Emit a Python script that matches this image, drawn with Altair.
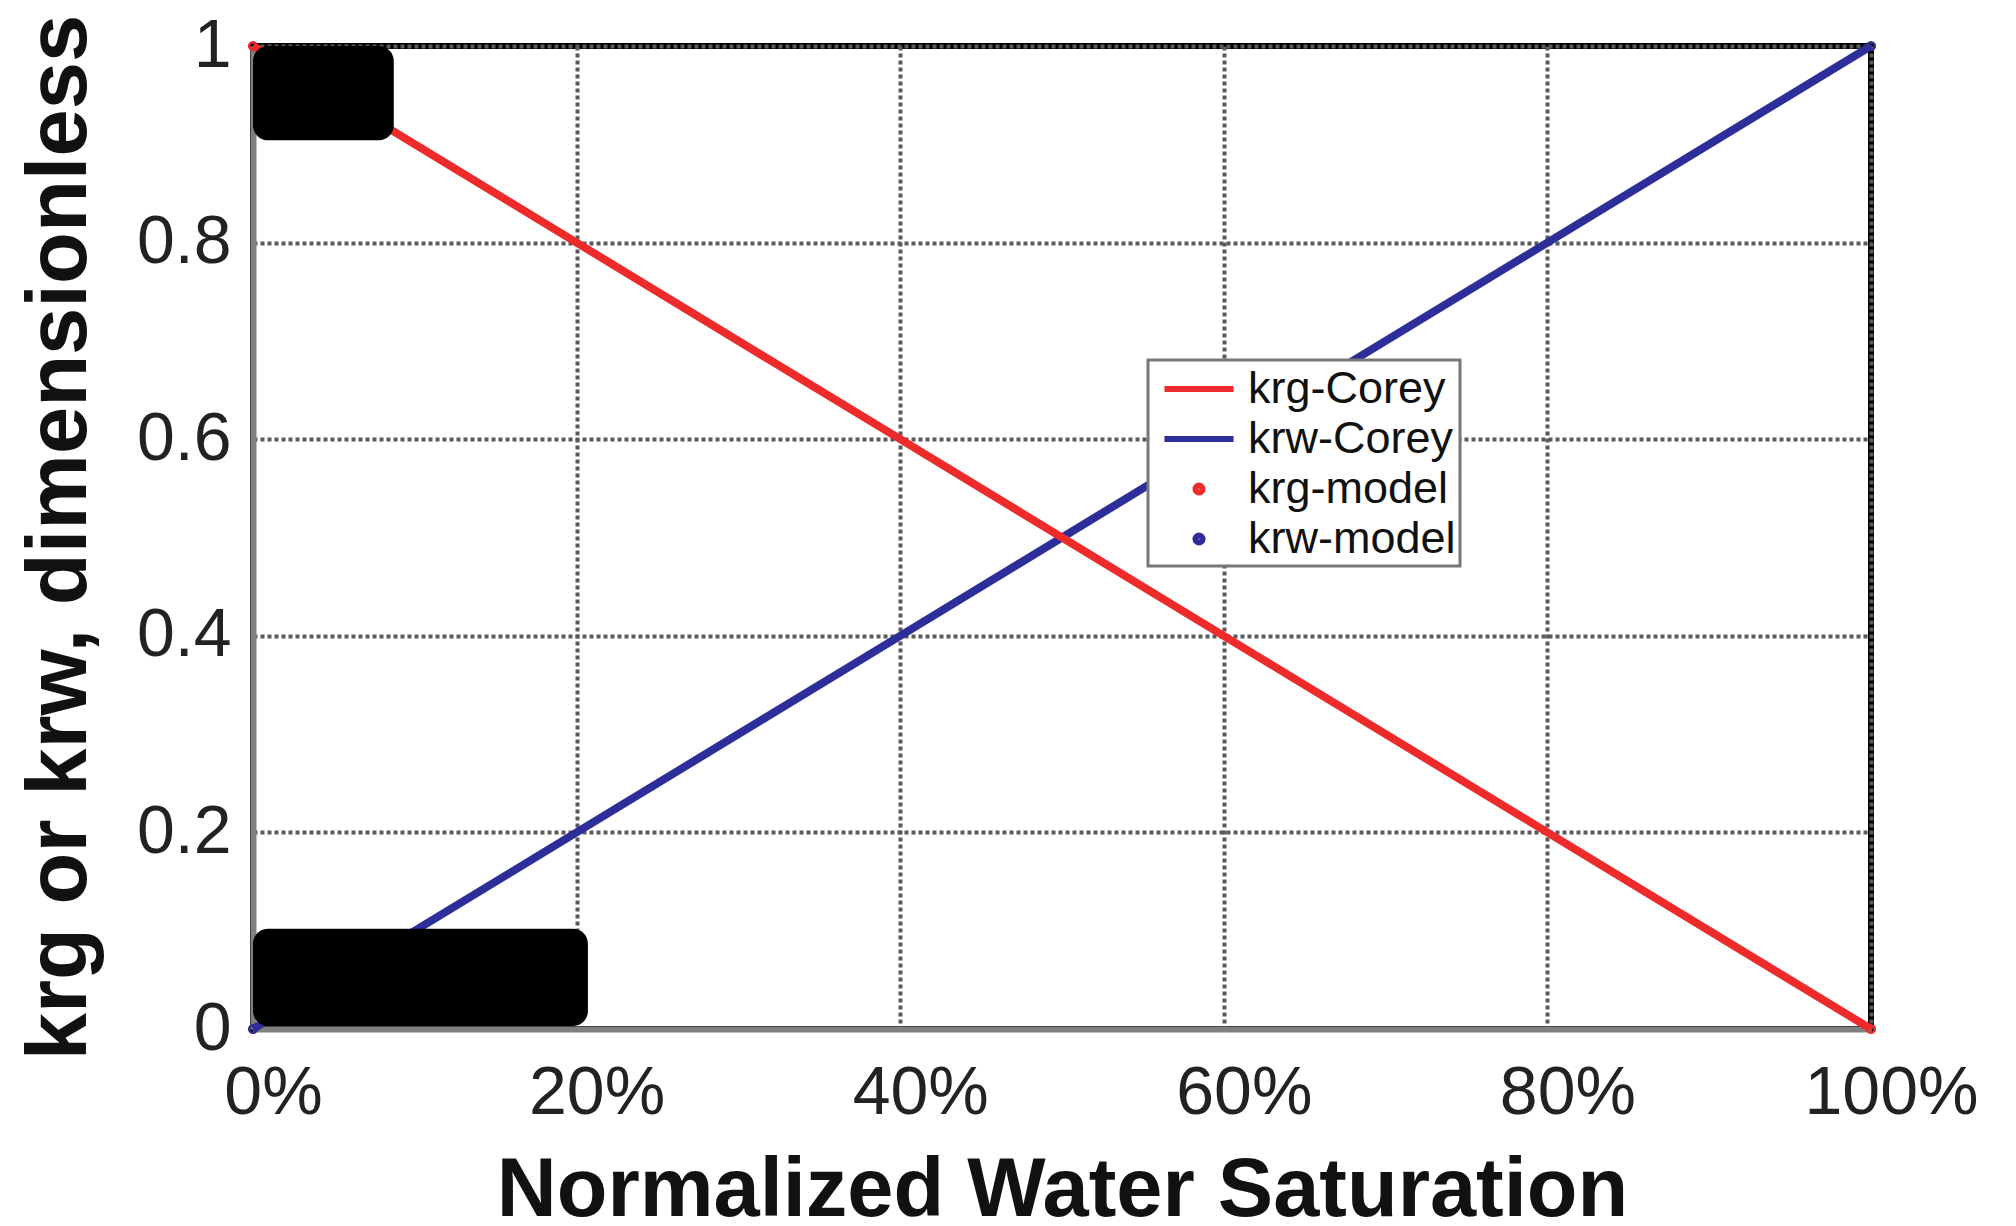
import altair as alt
import pandas as pd

# ---- data ----
sw = [0.0, 0.2, 0.4, 0.6, 0.8, 1.0]
krg_corey = [1.0, 0.8, 0.6, 0.4, 0.2, 0.0]
krw_corey = [0.0, 0.2, 0.4, 0.6, 0.8, 1.0]
model_sw = [0.0, 1.0]
krg_model = [1.0, 0.0]
krw_model = [0.0, 1.0]

series = ["krg-Corey", "krw-Corey", "krg-model", "krw-model"]
colors = ["#ee2b2b", "#2e2e9a", "#ee2b2b", "#2e2e9a"]
line_path = "M -1.57,0 L 1.57,0"
circle_path = "M -0.16,0 A 0.16,0.16 0 1,0 0.16,0 A 0.16,0.16 0 1,0 -0.16,0 Z"
shapes = [line_path, line_path, circle_path, circle_path]

x_ticks = [0, 0.2, 0.4, 0.6, 0.8, 1.0]
y_ticks = [0, 0.2, 0.4, 0.6, 0.8, 1.0]

# redaction boxes present in the reference image
box_x = [0.0, 0.0]
box_x2 = [0.087, 0.207]
box_y = [0.904, 0.003]
box_y2 = [1.0, 0.102]

line_df = pd.DataFrame(
    [{"sw": s, "kr": v, "series": "krw-Corey", "o": 0} for s, v in zip(sw, krw_corey)]
    + [{"sw": s, "kr": v, "series": "krg-Corey", "o": 1} for s, v in zip(sw, krg_corey)]
)
pt_df = pd.DataFrame(
    [{"sw": s, "kr": v, "series": "krg-model"} for s, v in zip(model_sw, krg_model)]
    + [{"sw": s, "kr": v, "series": "krw-model"} for s, v in zip(model_sw, krw_model)]
)
box_df = pd.DataFrame({"x": box_x, "x2": box_x2, "y": box_y, "y2": box_y2})

FONT = "Liberation Sans"

x_enc = alt.X(
    "sw:Q",
    scale=alt.Scale(domain=[0, 1], nice=False, zero=False),
    axis=alt.Axis(
        values=x_ticks, format=".0%", title="Normalized Water Saturation",
        labelFontSize=68, labelFont=FONT, labelColor="#222", labelPadding=30,
        labelOffset=20, labelFlush=False, ticks=False, titleFontSize=83,
        titleFont=FONT, titleFontWeight="bold", titleColor="#111",
        titleBaseline="alphabetic", titleY=186, grid=True,
    ),
)
y_enc = alt.Y(
    "kr:Q",
    scale=alt.Scale(domain=[0, 1], nice=False),
    axis=alt.Axis(
        values=y_ticks, format="~g", title="krg  or krw, dimensionless",
        labelFontSize=68, labelFont=FONT, labelColor="#222", labelPadding=22,
        labelFlush=False, ticks=False, titleFontSize=85, titleFont=FONT,
        titleFontWeight="bold", titleColor="#111", titleBaseline="alphabetic",
        titleAngle=270, titleX=-168, titleY=491, titleAlign="center", grid=True,
    ),
)

legend = alt.Legend(
    title=None, orient="none", legendX=895, legendY=314,
    strokeColor="#777", fillColor="white", padding=4,
    symbolSize=1936, symbolStrokeWidth=6, symbolOpacity=1, symbolOffset=22,
    labelFontSize=45, labelFont=FONT, labelColor="#111", labelOffset=24,
    labelLimit=500, rowPadding=2, labelExpr="datum.label + ' '",
)
color_enc = alt.Color("series:N", scale=alt.Scale(domain=series, range=colors), legend=legend)
shape_enc = alt.Shape("series:N", scale=alt.Scale(domain=series, range=shapes), legend=legend)

lines = alt.Chart(line_df).mark_line(strokeWidth=8).encode(
    x=x_enc, y=y_enc, color=color_enc, detail="series:N", order="o:Q"
)
points = alt.Chart(pt_df).mark_point(filled=False, size=60, strokeWidth=2.5, opacity=1).encode(
    x="sw:Q", y="kr:Q", color=color_enc, shape=alt.value("circle")
)
boxes = alt.Chart(box_df).mark_rect(color="black", cornerRadius=15).encode(
    x="x:Q", x2="x2", y="y:Q", y2="y2"
)

# invisible layer carrying the shape scale so the legend merges line/circle symbols
legend_carrier = alt.Chart(pt_df).mark_point(opacity=0, size=0).encode(
    x="sw:Q", y="kr:Q", color=color_enc, shape=shape_enc
)

chart = (
    alt.layer(lines, points, legend_carrier, boxes)
    .properties(
        width=1618, height=983,
        autosize=alt.AutoSizeParams(type="none"),
        padding={"left": 245, "top": 38, "right": 130, "bottom": 189},
        background="white",
    )
    .configure_view(stroke="black", strokeWidth=6)
    .configure_axis(
        domainColor="#808080", domainWidth=6, gridColor="#5a5a5a", gridDash=[4, 3],
        gridWidth=4, gridOpacity=1,
    )
    .configure_legend(strokeWidth=3)
)

chart.save("out.html", embed_options={"renderer": "svg", "actions": False})
